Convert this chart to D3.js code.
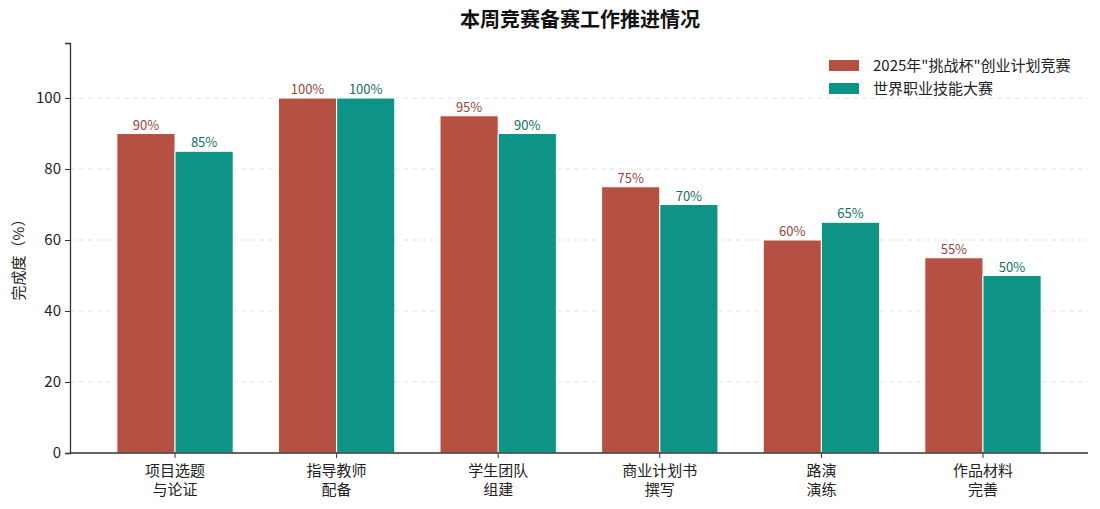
<!DOCTYPE html>
<html>
<head>
<meta charset="utf-8">
<script src="https://cdn.jsdelivr.net/npm/d3@7"></script>
<style>
  body { margin: 0; background: #fff; }
  svg text { font-family: "Noto Sans CJK SC", "Noto Sans", sans-serif; }
</style>
</head>
<body>
<svg id="chart" width="1100" height="509"></svg>
<script>
// 本周竞赛备赛工作推进情况 - 分组柱状图

const categories = [
    ["项目选题", "与论证"],
    ["指导教师", "配备"],
    ["学生团队", "组建"],
    ["商业计划书", "撰写"],
    ["路演", "演练"],
    ["作品材料", "完善"]
];
const seriesNames = ['2025年"挑战杯"创业计划竞赛', "世界职业技能大赛"];
const challengeCup = [90, 100, 95, 75, 60, 55];
const worldSkills = [85, 100, 90, 70, 65, 50];
const yTicks = [0, 20, 40, 60, 80, 100];

const colors = ["#b55142", "#0e9486"];
const labelColors = ["#97453a", "#0f6f66"];

const svg = d3.select("#chart");
const margin = {left: 70, right: 12, top: 43, bottom: 56};
const W = 1100, H = 509;

const x = d3.scaleLinear()
    .domain([-0.65, categories.length - 0.35])
    .range([margin.left, W - margin.right]);
const y = d3.scaleLinear()
    .domain([0, 115.5])
    .range([H - margin.bottom, margin.top]);

const barW = x(0.36) - x(0);

// 网格线
svg.append("g")
    .selectAll("line")
    .data(yTicks)
    .enter()
    .append("line")
    .attr("x1", margin.left)
    .attr("x2", W - margin.right)
    .attr("y1", d => y(d))
    .attr("y2", d => y(d))
    .attr("stroke", "#e3e3e3")
    .attr("stroke-width", 1)
    .attr("stroke-dasharray", "5,4");

// 柱子
const series = [challengeCup, worldSkills];
series.forEach((vals, s) => {
    const offset = s === 0 ? -barW : 0;
    svg.append("g")
        .selectAll("rect")
        .data(vals)
        .enter()
        .append("rect")
        .attr("x", (d, i) => x(i) + offset)
        .attr("y", d => y(d))
        .attr("width", barW)
        .attr("height", d => y(0) - y(d))
        .attr("fill", colors[s])
        .attr("stroke", "#fff")
        .attr("stroke-width", 1);

    svg.append("g")
        .selectAll("text")
        .data(vals)
        .enter()
        .append("text")
        .attr("x", (d, i) => x(i) + offset + barW / 2)
        .attr("y", d => y(d) - 4)
        .attr("text-anchor", "middle")
        .attr("font-size", "13px")
        .attr("fill", labelColors[s])
        .text(d => d + "%");
});

// Y轴
const yAxis = svg.append("g")
    .attr("transform", `translate(${margin.left},0)`)
    .call(d3.axisLeft(y).tickValues(yTicks).tickSize(5).tickPadding(4));
yAxis.select(".domain").attr("stroke", "#333").attr("stroke-width", 1.3);
yAxis.selectAll(".tick line").attr("stroke", "#333");
yAxis.selectAll(".tick text")
    .attr("font-size", "15px")
    .attr("fill", "#222")
    .style("font-family", '"Noto Sans CJK SC", sans-serif');

// X轴
svg.append("line")
    .attr("x1", margin.left)
    .attr("x2", W - margin.right)
    .attr("y1", y(0))
    .attr("y2", y(0))
    .attr("stroke", "#333")
    .attr("stroke-width", 1.3);

const xt = svg.append("g")
    .selectAll("g")
    .data(categories)
    .enter()
    .append("g")
    .attr("transform", (d, i) => `translate(${x(i)},${y(0)})`);
xt.append("line").attr("y2", 5).attr("stroke", "#333");
xt.each(function(d) {
    const g = d3.select(this);
    d.forEach((line, k) => {
        g.append("text")
            .attr("x", 0)
            .attr("y", 23 + k * 19)
            .attr("text-anchor", "middle")
            .attr("font-size", "15px")
            .attr("fill", "#222")
            .text(line);
    });
});

// 标题
svg.append("text")
    .attr("x", 580)
    .attr("y", 27)
    .attr("text-anchor", "middle")
    .attr("font-size", "20px")
    .attr("font-weight", "bold")
    .attr("fill", "#111")
    .text("本周竞赛备赛工作推进情况");

// Y轴标题
svg.append("text")
    .attr("transform", "translate(24,256) rotate(-90)")
    .attr("text-anchor", "middle")
    .attr("font-size", "15px")
    .attr("fill", "#222")
    .text("完成度（%）");

// 图例
const legend = svg.append("g").attr("transform", "translate(829,65)");
seriesNames.forEach((name, s) => {
    const g = legend.append("g").attr("transform", `translate(0,${s * 23})`);
    g.append("rect")
        .attr("x", 0).attr("y", -5)
        .attr("width", 30).attr("height", 11)
        .attr("fill", colors[s]);
    g.append("text")
        .attr("x", 44).attr("y", 6)
        .attr("font-size", "15px")
        .attr("fill", "#222")
        .text(name);
});

console.log("图表已生成");
</script>
</body>
</html>
